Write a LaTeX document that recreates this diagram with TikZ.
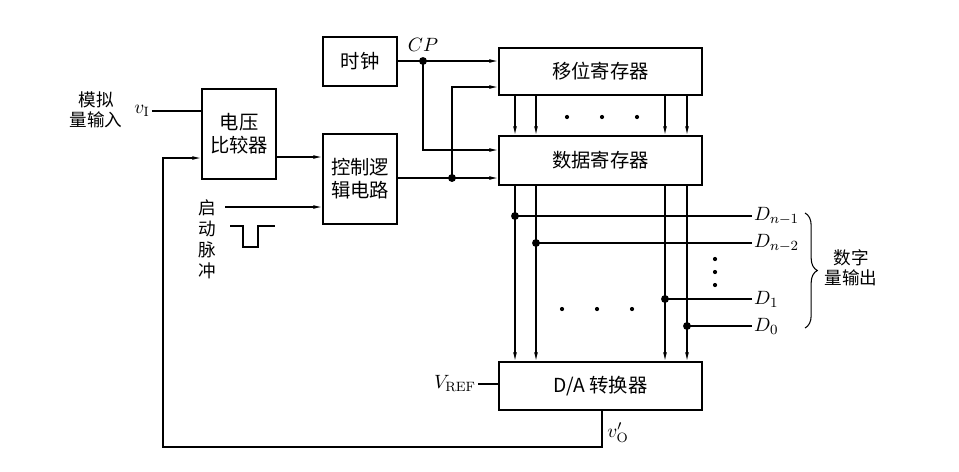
\documentclass[tikz,border=0pt]{standalone}
\usepackage{fontspec}
\newfontfamily\cjk{Noto Sans CJK SC}
\usetikzlibrary{arrows.meta, decorations.pathreplacing}

\begin{document}
\begin{tikzpicture}[x=0.02cm, y=-0.02cm, font=\fontsize{11}{13}\selectfont,
	blk/.style={draw, line width=1.1pt, align=center, inner sep=0pt, font=\cjk\fontsize{11}{13}\selectfont},
	lbl/.style={align=center, inner sep=0pt, font=\cjk\fontsize{10}{11.5}\selectfont},
	wire/.style={line width=0.6pt},
	arr/.style={wire, -{Latex[length=5pt, width=2.2pt]}},
	jdot/.style={circle, fill, inner sep=0pt, minimum size=4.5pt},
	edot/.style={circle, fill, inner sep=0pt, minimum size=2.4pt}]
	\useasboundingbox (0,0) rectangle (959,471);
	% Blocks:
	\node[blk, minimum width=1.48cm, minimum height=0.98cm] (clk) at (360,61.5) {时钟};
	\node[blk, minimum width=1.48cm, minimum height=1.8cm] (cmp) at (239,134) {电压\\比较器};
	\node[blk, minimum width=1.48cm, minimum height=1.8cm] (ctrl) at (360,179) {控制逻\\辑电路};
	\node[blk, minimum width=4.06cm, minimum height=0.94cm] (shift) at (600.5,71.5) {移位寄存器};
	\node[blk, minimum width=4.06cm, minimum height=0.98cm] (data) at (600.5,160.5) {数据寄存器};
	\node[blk, minimum width=4.06cm, minimum height=0.96cm] (da) at (600.5,386) {D/A 转换器};
	% Labels:
	\node[lbl] (ain) at (96,110) {模拟\\量输入};
	\node[inner sep=1pt] (vi) at (142,111) {$v_{\mathrm{I}}$};
	\node[lbl, font=\cjk\fontsize{10}{12}\selectfont] (start) at (207,239) {启\\动\\脉\\冲};
	\node (cplbl) at (423,45) {$CP$};
	\node[anchor=east, inner sep=1pt] (vref) at (478,384) {$V_{\mathrm{REF}}$};
	\node (vo) at (618,433) {$v'_{\mathrm{O}}$};
	\node[lbl] (dout) at (851,268) {数字\\量输出};
	% Helper points:
	\coordinate (fb1) at (163,158);
	\coordinate (fb0) at (163,447);
	\coordinate (fb2) at (602,447);
	\coordinate (cmpo) at (300,157);
	\coordinate (st) at (225,207);
	\coordinate (cp) at (423,61);
	\coordinate (cpd) at (423,150);
	\coordinate (lg) at (452,178);
	\coordinate (lgu) at (452,87);
	% Paths and wires:
	\draw[wire] (vi.east) -- (cmp.west |- vi.east);
	\draw[arr] (da.south -| fb2) -- (fb2) -- (fb0) -- (fb1) -- (cmp.west |- fb1);
	\draw[arr] (cmp.east |- cmpo) -- (ctrl.west |- cmpo);
	\draw[arr] (st) -- (ctrl.west |- st);
	\draw[wire] (230,226) -- (243,226) -- (243,247) -- (258,247) -- (258,226) -- (275,226);
	\draw[arr] (clk.east |- cp) -- (shift.west |- cp);
	\draw[arr] (cp) -- (cpd) -- (data.west |- cpd);
	\draw[arr] (ctrl.east |- lg) -- (data.west |- lg);
	\draw[arr] (lg) -- (lgu) -- (shift.west |- lgu);
	\node[jdot] at (cp) {};
	\node[jdot] at (lg) {};
	\foreach \x [count=\i] in {515,536,665,687} {
		\coordinate (b\i) at (\x,0);
		\draw[arr] (shift.south -| b\i) -- (data.north -| b\i);
		\draw[arr] (data.south -| b\i) -- (da.north -| b\i);
	}
	\draw[wire] (vref.east) -- (da.west |- vref.east);
	% Outputs:
	\node[anchor=west, inner sep=1pt] (d1) at (752,216) {$D_{n-1}$};
	\node[anchor=west, inner sep=1pt] (d2) at (752,243) {$D_{n-2}$};
	\node[anchor=west, inner sep=1pt] (d3) at (752,299) {$D_{1}$};
	\node[anchor=west, inner sep=1pt] (d4) at (752,326) {$D_{0}$};
	\foreach \i in {1,...,4} {
		\draw[wire] (d\i.west) -- (b\i |- d\i.west) node[jdot] {};
	}
	\draw[wire, decorate, decoration={brace, amplitude=7pt}] (805,213) -- (805,328);
	% Dots:
	\foreach \x in {567,602,637} \node[edot] at (\x,117) {};
	\foreach \x in {562,597,632} \node[edot] at (\x,309) {};
	\foreach \y in {259,272,285} \node[edot] at (715,\y) {};
\end{tikzpicture}
\end{document}
